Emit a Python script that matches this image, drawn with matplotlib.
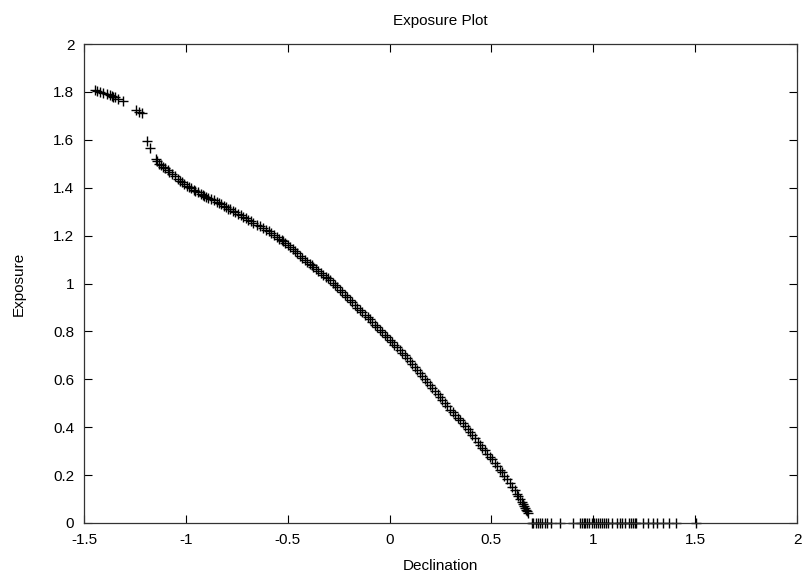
import matplotlib
matplotlib.use("Agg")
import matplotlib.pyplot as plt

title = "Exposure Plot"
xlabel = "Declination"
ylabel = "Exposure"
xticks = [-1.5, -1, -0.5, 0, 0.5, 1, 1.5, 2]
xticklabels = ["-1.5", "-1", "-0.5", "0", "0.5", "1", "1.5", "2"]
yticks = [0, 0.2, 0.4, 0.6, 0.8, 1.0, 1.2, 1.4, 1.6, 1.8, 2.0]
yticklabels = ["0", "0.2", "0.4", "0.6", "0.8", "1", "1.2", "1.4", "1.6", "1.8", "2"]

# upper-left cluster
dec_top = [-1.446, -1.435, -1.421, -1.405, -1.386, -1.372, -1.364, -1.356, -1.348,
           -1.332, -1.310, -1.245, -1.229, -1.217, -1.189, -1.176]
exp_top = [1.808, 1.805, 1.801, 1.797, 1.791, 1.787, 1.783, 1.780, 1.777,
           1.769, 1.762, 1.724, 1.717, 1.713, 1.596, 1.567]

# main descending branch
dec_main = [-1.147, -1.140, -1.131, -1.122, -1.114, -1.102, -1.090, -1.081, -1.068, -1.053,
            -1.041, -1.030, -1.020, -1.008, -0.996, -0.985, -0.975, -0.962, -0.953, -0.940,
            -0.927, -0.918, -0.911, -0.900, -0.890, -0.876, -0.863, -0.849, -0.838, -0.826,
            -0.815, -0.803, -0.791, -0.781, -0.770, -0.759, -0.742, -0.730, -0.718, -0.706,
            -0.694, -0.682, -0.668, -0.652, -0.638, -0.620, -0.607, -0.594, -0.581, -0.567,
            -0.554, -0.541, -0.529, -0.522, -0.511, -0.500, -0.489, -0.476, -0.466, -0.456,
            -0.441, -0.429, -0.415, -0.404, -0.392, -0.383, -0.374, -0.361, -0.350, -0.338,
            -0.325, -0.312, -0.301, -0.292, -0.280, -0.268, -0.257, -0.243, -0.233, -0.221,
            -0.210, -0.194, -0.183, -0.170, -0.158, -0.145, -0.133, -0.121, -0.108, -0.096,
            -0.085, -0.072, -0.060, -0.047, -0.036, -0.024, -0.013, 0.002, 0.012, 0.024,
            0.037, 0.051, 0.062, 0.074, 0.087, 0.100, 0.110, 0.123, 0.137, 0.149,
            0.160, 0.172, 0.186, 0.199, 0.210, 0.223, 0.236, 0.248, 0.259, 0.271,
            0.284, 0.297, 0.309, 0.321, 0.334, 0.346, 0.358, 0.371, 0.383, 0.395,
            0.407, 0.419, 0.432, 0.444, 0.455, 0.467, 0.480, 0.493, 0.503, 0.516,
            0.529, 0.542, 0.552, 0.563, 0.575, 0.591, 0.602, 0.614, 0.624, 0.632,
            0.641, 0.650, 0.656, 0.660, 0.666, 0.671, 0.675, 0.678]
exp_main = [1.520, 1.513, 1.500, 1.493, 1.488, 1.481, 1.473, 1.465, 1.456, 1.447,
            1.438, 1.430, 1.422, 1.414, 1.407, 1.402, 1.397, 1.391, 1.386, 1.380,
            1.374, 1.370, 1.367, 1.362, 1.358, 1.352, 1.347, 1.342, 1.336, 1.330,
            1.324, 1.318, 1.313, 1.309, 1.304, 1.300, 1.292, 1.286, 1.279, 1.273,
            1.267, 1.261, 1.254, 1.246, 1.240, 1.231, 1.225, 1.219, 1.211, 1.203,
            1.195, 1.187, 1.180, 1.176, 1.169, 1.162, 1.153, 1.143, 1.135, 1.127,
            1.116, 1.108, 1.098, 1.091, 1.082, 1.076, 1.070, 1.060, 1.053, 1.045,
            1.037, 1.028, 1.021, 1.013, 1.004, 0.994, 0.985, 0.973, 0.964, 0.954,
            0.945, 0.931, 0.921, 0.910, 0.899, 0.888, 0.879, 0.869, 0.859, 0.850,
            0.840, 0.828, 0.818, 0.806, 0.797, 0.786, 0.777, 0.764, 0.756, 0.745,
            0.734, 0.722, 0.711, 0.700, 0.687, 0.675, 0.665, 0.652, 0.638, 0.626,
            0.615, 0.603, 0.589, 0.576, 0.565, 0.552, 0.539, 0.527, 0.515, 0.502,
            0.488, 0.473, 0.462, 0.451, 0.440, 0.429, 0.418, 0.405, 0.393, 0.381,
            0.368, 0.355, 0.340, 0.327, 0.315, 0.303, 0.290, 0.277, 0.266, 0.251,
            0.237, 0.222, 0.211, 0.198, 0.184, 0.165, 0.152, 0.136, 0.122, 0.111,
            0.099, 0.088, 0.079, 0.073, 0.064, 0.056, 0.049, 0.043]

# zero-exposure points
dec_zero = [0.700, 0.705, 0.720, 0.730, 0.740, 0.750, 0.762, 0.775, 0.792, 0.838,
            0.898, 0.935, 0.945, 0.953, 0.961, 0.969, 0.978, 0.994, 1.005, 1.013,
            1.023, 1.033, 1.043, 1.053, 1.060, 1.073, 1.090, 1.114, 1.132, 1.143,
            1.156, 1.175, 1.186, 1.196, 1.205, 1.212, 1.242, 1.267, 1.291, 1.315,
            1.340, 1.373, 1.405, 1.506]
exp_zero = [0.0] * len(dec_zero)

plt.rcParams['font.family'] = ['Liberation Sans', 'DejaVu Sans']
fig = plt.figure(figsize=(8.07, 5.79), dpi=100)
ax = fig.add_axes([84 / 807, 1 - 523 / 579, (797 - 84) / 807, (523 - 44) / 579])

mk = dict(linestyle='none', marker='+', color='black', markersize=7, markeredgewidth=1.0)
ax.plot(dec_top, exp_top, **mk)
ax.plot(dec_main, exp_main, **mk)
ax.plot(dec_zero, exp_zero, clip_on=False, **mk)

ax.set_xlim(-1.5, 2)
ax.set_ylim(0, 2)
ax.set_xticks(xticks)
ax.set_xticklabels(xticklabels)
ax.set_yticks(yticks)
ax.set_yticklabels(yticklabels)
ax.tick_params(direction='in', length=5.5, width=0.8, top=True, right=True,
               labelsize=11, pad=7, colors='black')
for s in ax.spines.values():
    s.set_linewidth(0.9)
    s.set_color('#333333')

ax.set_title(title, fontsize=11, pad=14)
ax.set_xlabel(xlabel, fontsize=11, labelpad=9)
ax.set_ylabel(ylabel, fontsize=11, labelpad=20)

fig.savefig("out.png", dpi=100)
